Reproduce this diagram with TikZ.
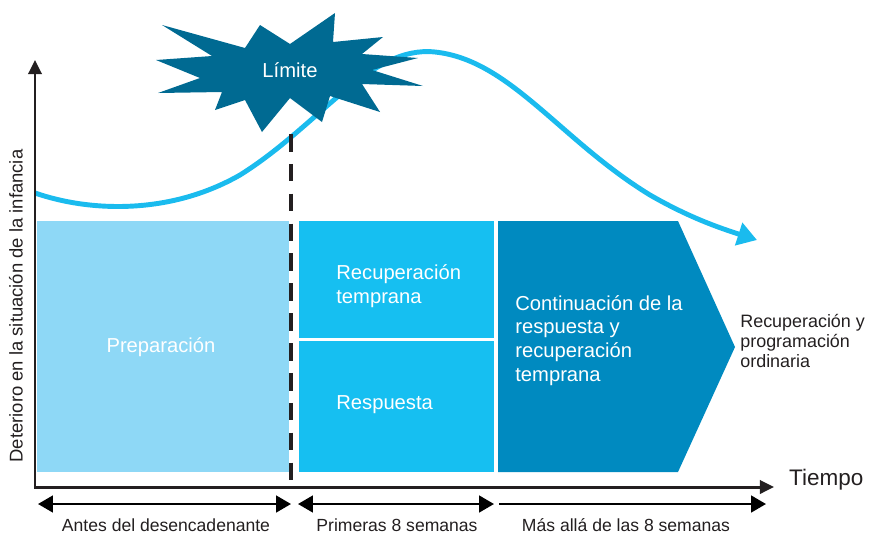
\documentclass[tikz,border=0pt]{standalone}
\usepackage{fontspec}
\setmainfont{Liberation Sans}
\usetikzlibrary{arrows.meta,positioning}
\definecolor{prepblue}{HTML}{8ED8F6}
\definecolor{midblue}{HTML}{16BFF1}
\definecolor{deepblue}{HTML}{008AC0}
\definecolor{starblue}{HTML}{006A92}
\definecolor{curveblue}{HTML}{1ABBEE}
\definecolor{inkgrey}{HTML}{231F20}
\tikzset{spantip/.tip={Triangle[length=8.5pt,width=9.5pt]}}

\begin{document}
\begin{tikzpicture}[x=0.02cm, y=-0.02cm,
    every node/.style={font=\fontsize{11.5}{13.6}\selectfont},
    phase/.style={inner sep=0pt, outer sep=0pt},
    phasetext/.style={text=white, align=left, inner sep=0pt},
    axisline/.style={line width=1.7pt, inkgrey, {Triangle[length=8pt,width=7.5pt]}-{Triangle[length=8pt,width=7.5pt]}},
    spanline/.style={line width=1.4pt, black},
    spanlabel/.style={font=\fontsize{10}{12}\selectfont, text=inkgrey}]
  \useasboundingbox (0,0) rectangle (869,535);

  % phases
  \node[phase, fill=prepblue, minimum width=5.04cm, minimum height=5.02cm] (prep) at (163,346.5) {};
  \node[phasetext] (preplabel) at (161,347) {Preparación};
  \node[phase, fill=midblue, minimum width=3.9cm, minimum height=2.34cm] (early) at (396.5,279.5) {};
  \node[phasetext, anchor=west] (earlylabel) at (336,286) {Recuperación\\temprana};
  \node[phase, fill=midblue, minimum width=3.9cm, minimum height=2.62cm] (resp) at (396.5,406.5) {};
  \node[phasetext, anchor=west] (resplabel) at (336,405) {Respuesta};
  \fill[deepblue] (498,221) -- (678,221) -- (735,347) -- (678,472) -- (498,472) -- cycle;
  \node[phasetext, anchor=west] (contlabel) at (515,340.5)
    {Continuación de la\\respuesta y\\recuperación\\temprana};
  \node[anchor=north west, align=left, inner sep=0pt, text=inkgrey,
    font=\fontsize{10.2}{11.4}\selectfont] (ordinary) at (740,314)
    {Recuperación y\\programación\\ordinaria};

  % curve
  \coordinate (cstart) at (35,193);
  \coordinate (cend) at (757,240);
  \draw[curveblue, line width=2.8pt, -{Triangle[length=11pt,width=13pt]}]
    (cstart) .. controls (90,212) and (170,215) .. (240,175)
    .. controls (320,125) and (370,45) .. (435,52)
    .. controls (510,60) and (560,140) .. (650,195)
    .. controls (690,218) and (720,228) .. (cend);

  % trigger
  \coordinate (dtop) at (291,134);
  \coordinate (dbot) at (291,487);
  \draw[line width=2.4pt, inkgrey, dash pattern=on 10pt off 7pt] (dtop) -- (dbot);
  \fill[starblue] (162,25) -- (245,48) -- (260,25) -- (290,44) -- (335,13) -- (333,42)
    -- (383,37) -- (362,54) -- (418,58) -- (372,70) -- (423,86) -- (362,84)
    -- (380,112) -- (330,96) -- (322,122) -- (290,98) -- (262,132) -- (245,100)
    -- (215,110) -- (222,92) -- (158,93) -- (200,78) -- (156,60) -- (212,56) -- cycle;
  \node[text=white] (limit) at (290,70) {Límite};

  % axes
  \coordinate (ytop) at (35,60);
  \coordinate (origin) at (35,487);
  \coordinate (xend) at (774,487);
  \draw[axisline] (ytop) -- (origin) -- (xend);
  \node[anchor=west, text=inkgrey, font=\fontsize{12.8}{14}\selectfont] (time) at (783,480) {Tiempo};
  \node[rotate=90, text=inkgrey, font=\fontsize{10.5}{12}\selectfont] (ylabel) at (16,306)
    {Deterioro en la situación de la infancia};

  % time spans
  \coordinate (s1a) at (38,504);
  \coordinate (s1b) at (291,504);
  \coordinate (s2a) at (298,504);
  \coordinate (s2b) at (494,504);
  \coordinate (s3a) at (499,504);
  \coordinate (s3b) at (766,504);
  \draw[spanline, spantip-spantip] (s1a) -- (s1b);
  \draw[spanline, spantip-spantip] (s2a) -- (s2b);
  \draw[spanline, -spantip] (s3a) -- (s3b);
  \node[spanlabel] (before) at (166,525) {Antes del desencadenante};
  \node[spanlabel] (first) at (397,525) {Primeras 8 semanas};
  \node[spanlabel] (beyond) at (626,525) {Más allá de las 8 semanas};
\end{tikzpicture}
\end{document}
